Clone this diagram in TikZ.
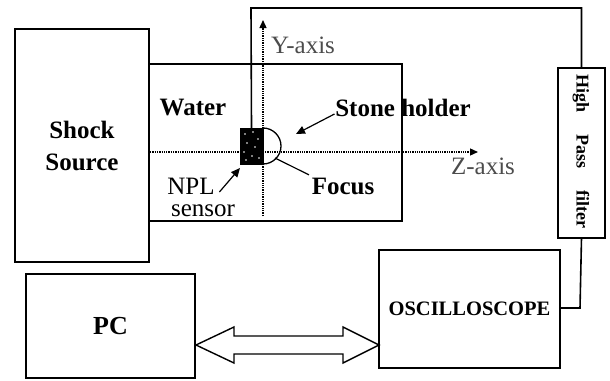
\documentclass[tikz,border=0pt]{standalone}
\usepackage{fontspec}
\setmainfont{Liberation Serif}
\usetikzlibrary{arrows.meta,calc}
\begin{document}
\begin{tikzpicture}[x=1pt,y=-1pt,line width=1.6pt,
  box/.style={draw,line width=1.6pt,inner sep=0pt,outer sep=0pt},
  lbl/.style={font=\fontsize{25}{27}\selectfont\bfseries,inner sep=0pt},
  rlbl/.style={font=\fontsize{25}{27}\selectfont,inner sep=0pt},
  axlbl/.style={font=\fontsize{25}{27}\selectfont,inner sep=0pt,text=black!70},
  ax/.style={densely dotted,line width=1.3pt,-{Triangle[length=8pt,width=7pt]}},
  pointer/.style={line width=1.2pt,-{Triangle[length=9pt,width=8pt]}},
  wire/.style={line width=1.6pt}]
\useasboundingbox (0,0) rectangle (610,380);

% water tank
\node[box,minimum width=253pt,minimum height=157pt] (tank) at (275.5,142.5) {};
% shock source
\node[box,fill=white,minimum width=134pt,minimum height=233pt,align=center,
      font=\fontsize{25}{32}\selectfont\bfseries] (shock) at (82,145.5) {Shock\\Source};
% axes
\coordinate (ybot) at (263,216);
\coordinate (ytop) at (263,20);
\coordinate (zl) at (150,152);
\coordinate (zr) at (478,152);
\draw[ax] (ybot) -- (ytop);
\draw[ax] (zl) -- (zr);
% sensor
\node[box,fill=black,line width=1pt,minimum width=23pt,minimum height=36pt] (sensor) at (251.5,146) {};
\foreach \p in {(245,134),(253,132),(258,139),(247,143),(255,147),(244,152),(252,156),(259,158),(246,160)}
  \fill[white] \p circle[radius=0.9pt];
% stone holder
\draw[line width=1.3pt] (sensor.north east) arc[start angle=90,end angle=-90,radius=18pt];
% labels
\node[axlbl] (ylab) at (303,45) {Y-axis};
\node[axlbl] (zlab) at (483,166) {Z-axis};
\node[lbl] (water) at (193,108) {Water};
\node[lbl] (stone) at (403,108) {Stone holder};
\node[lbl] (focus) at (343,186) {Focus};
\node[rlbl] (npl) at (191,186) {NPL};
\node[rlbl] (sens) at (203,211) {sensor};
\coordinate (stoneptr) at (296,134);
\coordinate (focpt) at (275,158);
\coordinate (nplpt) at (240,168);
\draw[pointer] (stone.west) ++(0,6) -- (stoneptr);
\draw[line width=1.2pt] (focus.north west) ++(-2,-2) -- (focpt);
\draw[pointer] (npl.east) ++(4,6) -- (nplpt);

% filter
\node[box,minimum width=47pt,minimum height=170pt] (filter) at (581.5,153) {};
\node[inner sep=0pt,rotate=-90,font=\fontsize{18}{20}\selectfont\bfseries] (ftext) at (581,151)
  {High\hspace{22pt}Pass\hspace{22pt}filter};
% oscilloscope and PC
\node[box,minimum width=181pt,minimum height=118pt,font=\fontsize{20.5}{22}\selectfont\bfseries] (osc) at (469.5,309) {OSCILLOSCOPE};
\node[box,minimum width=169pt,minimum height=104pt,font=\fontsize{26}{28}\selectfont\bfseries] (pc) at (110.5,326) {PC};

% wires
\coordinate (wtop) at (251,8);
\coordinate (wbot) at (580,308);
\draw[wire] (sensor.north) -- (wtop) -| (filter.north);
\draw[wire] (filter.south) -- (wbot) -- (wbot -| osc.east);

% double arrow
\coordinate (L) at (196,345);
\coordinate (R) at (379,345);
\draw[line width=1.4pt,line join=miter]
  (L) -- ($(L)+(38,-18)$) -- ($(L)+(38,-9)$) -- ($(R)+(-36,-9)$) -- ($(R)+(-36,-18)$) -- (R)
  -- ($(R)+(-36,18)$) -- ($(R)+(-36,9)$) -- ($(L)+(38,9)$) -- ($(L)+(38,18)$) -- cycle;
\end{tikzpicture}
\end{document}
